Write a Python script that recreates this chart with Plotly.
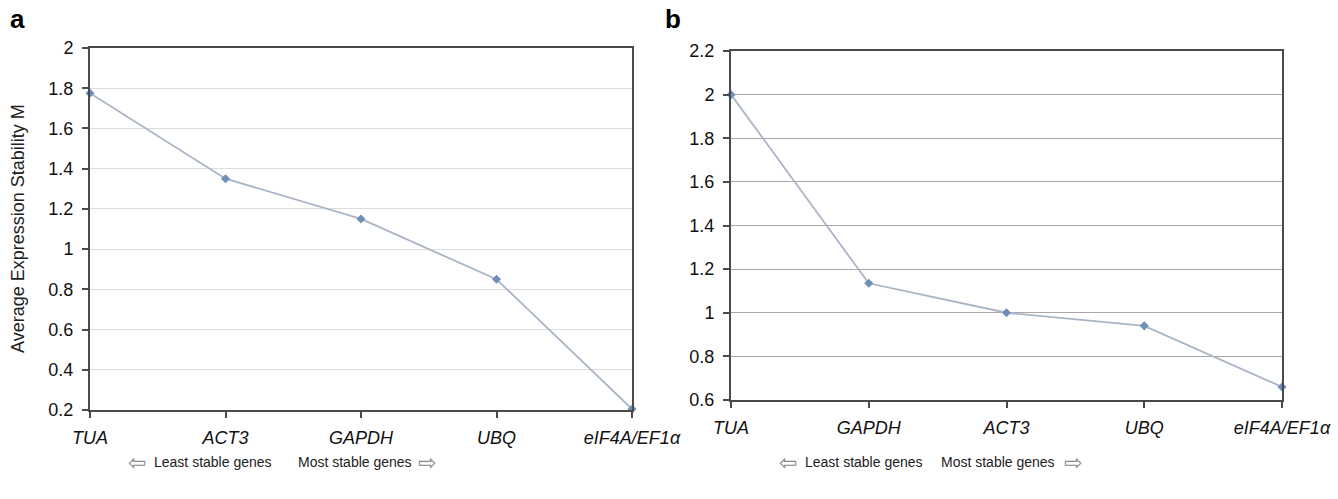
import plotly.graph_objects as go

genes_a = ["TUA", "ACT3", "GAPDH", "UBQ", "eIF4A/EF1α"]
m_a = [1.775, 1.35, 1.15, 0.85, 0.205]
genes_b = ["TUA", "GAPDH", "ACT3", "UBQ", "eIF4A/EF1α"]
m_b = [2.0, 1.135, 1.0, 0.94, 0.66]
yticks_a = [0.2, 0.4, 0.6, 0.8, 1, 1.2, 1.4, 1.6, 1.8, 2]
yticks_b = [0.6, 0.8, 1, 1.2, 1.4, 1.6, 1.8, 2, 2.2]

W, H = 1338, 499
line_col = "#a9b5c6"
mark_col = "#6f8fb8"
axis_col = "#4a4a4a"
font_tick = dict(family="Liberation Sans, Arial, sans-serif", size=18, color="#111")
font_x = dict(family="Liberation Sans, Arial, sans-serif", size=18, color="#111")

fig = go.Figure()
for i, (genes, vals) in enumerate([(genes_a, m_a), (genes_b, m_b)]):
    fig.add_trace(go.Scatter(
        x=list(range(len(genes))), y=vals, mode="lines+markers",
        line=dict(color=line_col, width=1.8),
        marker=dict(symbol="diamond", size=7, color=mark_col),
        cliponaxis=False, showlegend=False,
        xaxis="x" if i == 0 else "x2", yaxis="y" if i == 0 else "y2",
    ))

def px(x):
    return x / W

def py(y):
    return 1 - y / H

common_x = dict(range=[0, 4], tickmode="array", tickvals=list(range(5)),
                showline=True, linecolor=axis_col, linewidth=2, mirror=True,
                ticks="outside", ticklen=6, tickcolor=axis_col, tickwidth=1.5,
                showgrid=False, zeroline=False, fixedrange=True, automargin=False,
                ticklabelstandoff=4)
common_y = dict(showline=True, linecolor=axis_col, linewidth=2, mirror=True,
                ticks="outside", ticklen=6, tickcolor=axis_col, tickwidth=1.5,
                zeroline=False, tickfont=font_tick, automargin=False,
                ticklabelstandoff=5)

fig.update_layout(
    width=W, height=H, paper_bgcolor="white", plot_bgcolor="white",
    margin=dict(l=0, r=0, t=0, b=0),
    xaxis=dict(common_x, domain=[px(90), px(632)], anchor="y",
               ticktext=[f"<i>{g}</i>" for g in genes_a], tickfont=font_x),
    yaxis=dict(common_y, domain=[py(410), py(48)], anchor="x",
               range=[0.2, 2.0], tickvals=yticks_a,
               ticktext=[f"{v:g}" for v in yticks_a],
               showgrid=True, gridcolor="#dcdcdc", gridwidth=1.2),
    xaxis2=dict(common_x, domain=[px(731), px(1282)], anchor="y2",
                ticktext=[f"<i>{g}</i>" for g in genes_b], tickfont=font_x),
    yaxis2=dict(common_y, domain=[py(400), py(51)], anchor="x2",
                range=[0.6, 2.2], tickvals=yticks_b,
                ticktext=[f"{v:g}" for v in yticks_b],
                showgrid=True, gridcolor="#a8a8a8", gridwidth=1.2),
)

ann_font = dict(family="Liberation Sans, Arial, sans-serif", size=14, color="#222")
arrow_font = dict(family="DejaVu Sans", size=22, color="#8a8a8a")
Y_LEG = 462
anns = [
    dict(text="<b>a</b>", x=px(8), y=py(19), xanchor="left", yanchor="middle",
         font=dict(family="Liberation Sans, Arial, sans-serif", size=26, color="#000")),
    dict(text="<b>b</b>", x=px(663), y=py(19), xanchor="left", yanchor="middle",
         font=dict(family="Liberation Sans, Arial, sans-serif", size=26, color="#000")),
    dict(text="Average Expression Stability M", x=px(18), y=py(229), xanchor="center",
         yanchor="middle", textangle=-90,
         font=dict(family="Liberation Sans, Arial, sans-serif", size=18, color="#222")),
    dict(text="⇦", x=px(137), y=py(Y_LEG), xanchor="center", yanchor="middle", font=arrow_font),
    dict(text="Least stable genes", x=px(152), y=py(Y_LEG), xanchor="left", yanchor="middle", font=ann_font),
    dict(text="Most stable genes", x=px(296), y=py(Y_LEG), xanchor="left", yanchor="middle", font=ann_font),
    dict(text="⇨", x=px(427), y=py(Y_LEG), xanchor="center", yanchor="middle", font=arrow_font),
    dict(text="⇦", x=px(788), y=py(Y_LEG), xanchor="center", yanchor="middle", font=arrow_font),
    dict(text="Least stable genes", x=px(803), y=py(Y_LEG), xanchor="left", yanchor="middle", font=ann_font),
    dict(text="Most stable genes", x=px(939), y=py(Y_LEG), xanchor="left", yanchor="middle", font=ann_font),
    dict(text="⇨", x=px(1073), y=py(Y_LEG), xanchor="center", yanchor="middle", font=arrow_font),
]
for a in anns:
    a.update(xref="paper", yref="paper", showarrow=False)
fig.update_layout(annotations=anns)

fig.write_html("out.html", config={"displayModeBar": False},
               post_script="document.body.style.margin='0';document.body.style.padding='0';")
